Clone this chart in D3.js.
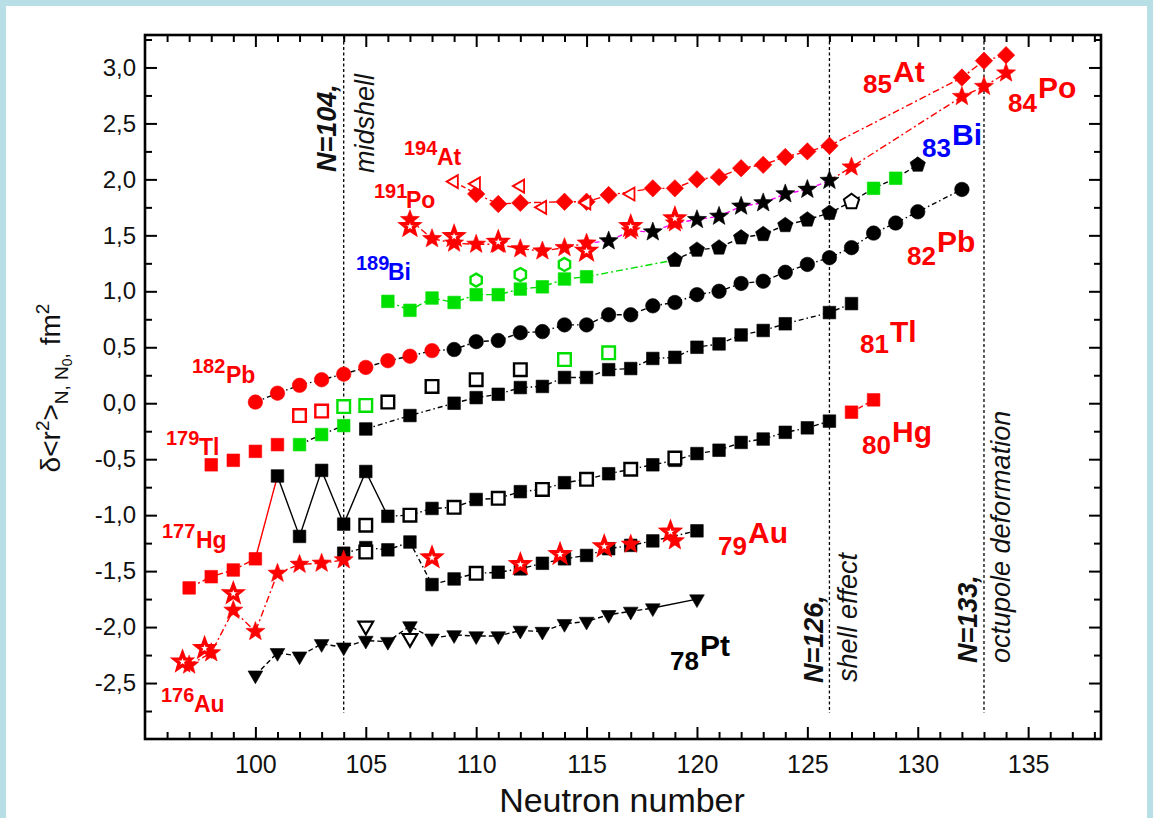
<!DOCTYPE html>
<html>
<head>
<meta charset="utf-8">
<script src="https://cdn.jsdelivr.net/npm/d3@7"></script>
<style>
body { margin: 0; background: #b9dfe6; }
svg { display: block; }
text { font-family: "Liberation Sans", Arial, sans-serif; }
</style>
</head>
<body>
<script>
var W = 1153, H = 818;

// 78 Pt
var ptN = [100,101,102,103,104,105,106,107,108,109,110,111,112,113,114,115,116,117,118,120];
var ptR = [-2.43,-2.23,-2.26,-2.15,-2.18,-2.12,-2.13,-1.99,-2.10,-2.07,-2.08,-2.08,-2.03,-2.04,-1.97,-1.95,-1.89,-1.86,-1.83,-1.75];
var ptOpenN = [105,107];
var ptOpenR = [-1.99,-2.10];

// 79 Au
var auStarN = [97,98,99,100,101,102,103,104,117,119];
var auStarR = [-2.34,-2.23,-1.85,-2.04,-1.52,-1.44,-1.43,-1.40,-1.26,-1.23];
var auOpenStarN = [96.7,97.7,99,108,112,113.8,115.8,118.8];
var auOpenStarR = [-2.31,-2.19,-1.70,-1.38,-1.44,-1.35,-1.28,-1.15];
var auSqN = [104,105,106,107,108,109,111,112,113,114,115,116,117,118,120];
var auSqR = [-1.34,-1.29,-1.31,-1.24,-1.62,-1.57,-1.51,-1.48,-1.43,-1.39,-1.36,-1.30,-1.27,-1.23,-1.14];
var auOpenSqN = [105,110];
var auOpenSqR = [-1.33,-1.52];

// 80 Hg
var hgRedN = [97,98,99,100,127,128];
var hgRedR = [-1.65,-1.55,-1.49,-1.39,-0.08,0.03];
var hgN = [101,102,103,104,105,106,108,110,112,114,116,118,119,120,121,122,123,124,125,126];
var hgR = [-0.65,-1.19,-0.60,-1.08,-0.61,-1.01,-0.94,-0.86,-0.79,-0.71,-0.63,-0.55,-0.51,-0.45,-0.42,-0.35,-0.32,-0.26,-0.22,-0.16];
var hgOpenN = [105,107,109,111,113,115,117,119];
var hgOpenR = [-1.09,-1.00,-0.93,-0.85,-0.77,-0.68,-0.59,-0.49];

// 81 Tl
var tlRedN = [98,99,100,101];
var tlRedR = [-0.55,-0.51,-0.43,-0.37];
var tlRedOpenN = [102,103];
var tlRedOpenR = [-0.11,-0.07];
var tlGreenN = [102,103,104];
var tlGreenR = [-0.37,-0.28,-0.20];
var tlGreenOpenN = [104,105,114,116];
var tlGreenOpenR = [-0.03,-0.02,0.39,0.45];
var tlN = [105,107,109,110,111,112,113,114,115,116,117,118,119,120,121,122,123,124,126,127];
var tlR = [-0.23,-0.11,0.00,0.05,0.08,0.14,0.15,0.23,0.23,0.30,0.31,0.40,0.41,0.50,0.53,0.61,0.65,0.71,0.81,0.89];
var tlOpenN = [106,108,110,112];
var tlOpenR = [0.01,0.15,0.21,0.30];

// 82 Pb
var pbRedN = [100,101,102,103,104,105,106,107,108];
var pbRedR = [0.01,0.09,0.16,0.21,0.26,0.32,0.38,0.42,0.47];
var pbN = [109,110,111,112,113,114,115,116,117,118,119,120,121,122,123,124,125,126,127,128,129,130,132];
var pbR = [0.48,0.55,0.56,0.63,0.64,0.70,0.70,0.79,0.79,0.87,0.90,0.97,1.00,1.07,1.09,1.17,1.24,1.30,1.39,1.52,1.61,1.71,1.91];

// 83 Bi
var biGreenN = [106,107,108,109,110,111,112,113,114,115,128,129];
var biGreenR = [0.91,0.83,0.94,0.90,0.97,0.97,1.02,1.04,1.11,1.13,1.92,2.01];
var biHexN = [110,112,114];
var biHexR = [1.10,1.15,1.24];
var biN = [119,120,121,122,123,124,125,126,130];
var biR = [1.28,1.37,1.39,1.48,1.51,1.59,1.64,1.70,2.13];
var biOpenN = [127];
var biOpenR = [1.80];

// 84 Po
var poRedN = [107,108,109,110,111,112,113,114,115,117,119,127,132,133,134];
var poRedR = [1.64,1.47,1.43,1.42,1.42,1.38,1.36,1.39,1.43,1.54,1.61,2.11,2.74,2.83,2.95];
var poOpenN = [107,109,111,115,117,119];
var poOpenR = [1.58,1.49,1.44,1.36,1.58,1.65];
var poN = [116,118,120,121,122,123,124,125,126];
var poR = [1.45,1.53,1.64,1.67,1.76,1.79,1.87,1.91,1.99];

// 85 At
var atN = [110,111,112,114,115,116,118,119,120,121,122,123,124,125,126,132,133,134];
var atR = [1.87,1.78,1.79,1.80,1.80,1.86,1.92,1.92,2.00,2.02,2.10,2.13,2.20,2.25,2.30,2.91,3.06,3.11];
var atOpenN = [109,110,112,113,115,117];
var atOpenR = [1.98,1.96,1.94,1.75,1.79,1.87];

// axis ticks
var xMajor = [100,105,110,115,120,125,130,135];
var yMajor = [-2.5,-2,-1.5,-1,-0.5,0,0.5,1,1.5,2,2.5,3];
var markN = [104,126,133];

var RED = '#ff0000', GREEN = '#00e000', BLUE = '#0000ff', MAG = '#ff00ff';

var svg = d3.select('body').append('svg')
            .attr('width', W)
            .attr('height', H);

svg.append('rect').attr('width', W).attr('height', H).attr('fill', '#b9dfe6');
svg.append('rect').attr('x', 6).attr('y', 6).attr('width', W - 12).attr('height', H - 6).attr('fill', '#fff');

var x = d3.scaleLinear().domain([95, 138.3]).range([145, 1101]);
var y = d3.scaleLinear().domain([-3, 3.29]).range([739, 35]);

// ticks, all pointing inwards
var xMinor = d3.range(96, 139).filter(d => xMajor.indexOf(d) < 0);
var yMinor = d3.range(-2.75, 3.3, 0.5);
var fmtY = d => d.toFixed(1).replace('.', ',');

function axisGroup(axis, tr) {
  var g = svg.append('g').attr('transform', tr).call(axis);
  g.select('.domain').remove();
  g.selectAll('line').attr('stroke-width', 2);
  return g;
}
var bottom = axisGroup(d3.axisBottom(x).tickValues(xMajor).tickSize(-12).tickSizeOuter(0).tickPadding(16).tickFormat(d3.format('d')), 'translate(0,739)');
axisGroup(d3.axisBottom(x).tickValues(xMinor).tickSize(-7).tickFormat(''), 'translate(0,739)');
axisGroup(d3.axisTop(x).tickValues(xMajor).tickSize(-12).tickFormat(''), 'translate(0,35)');
axisGroup(d3.axisTop(x).tickValues(xMinor).tickSize(-7).tickFormat(''), 'translate(0,35)');
var left = axisGroup(d3.axisLeft(y).tickValues(yMajor).tickSize(-12).tickSizeOuter(0).tickPadding(9).tickFormat(fmtY), 'translate(145,0)');
axisGroup(d3.axisLeft(y).tickValues(yMinor).tickSize(-7).tickFormat(''), 'translate(145,0)');
axisGroup(d3.axisRight(y).tickValues(yMajor).tickSize(-12).tickFormat(''), 'translate(1101,0)');
axisGroup(d3.axisRight(y).tickValues(yMinor).tickSize(-7).tickFormat(''), 'translate(1101,0)');
bottom.selectAll('text').style('font-size', '25px').attr('fill', '#111').style('font-family', '"Liberation Sans", Arial');
left.selectAll('text').style('font-size', '24px').attr('fill', '#111').style('font-family', '"Liberation Sans", Arial');

// vertical markers
svg.append('g').selectAll('line').data(markN).enter().append('line')
   .attr('x1', d => x(d)).attr('x2', d => x(d))
   .attr('y1', 36).attr('y2', 713)
   .attr('stroke', '#000').attr('stroke-width', 1.3).attr('stroke-dasharray', '3,2.5');

// helpers for picking points
function pts(nArr, rArr, lo, hi) {
  return nArr.map((n, i) => [n, rArr[i]]).filter(p => p[0] >= lo && p[0] <= hi);
}
function merge() {
  var all = [];
  for (var i = 0; i < arguments.length; i++) all = all.concat(arguments[i]);
  return all.sort((a, b) => a[0] - b[0]);
}

var DASHDOT = '7,3,2,3', DOTDASH = '5,3,1.5,3', DASH = '5,3';

var links = [
  {p: pts(ptN, ptR, 100, 118), c: '#000', d: DASH},
  {p: pts(ptN, ptR, 118, 120), c: '#000', d: null},
  {p: pts(auStarN, auStarR, 97, 104), c: RED, d: DASHDOT},
  {p: merge(pts(auSqN, auSqR, 104, 120), pts(auOpenSqN, auOpenSqR, 110, 110)), c: '#000', d: DOTDASH},
  {p: pts(hgRedN, hgRedR, 97, 100), c: RED, d: DASHDOT},
  {p: merge(pts(hgRedN, hgRedR, 100, 100), pts(hgN, hgR, 101, 101)), c: RED, d: null},
  {p: pts(hgN, hgR, 101, 106), c: '#000', d: null},
  {p: merge(pts(hgN, hgR, 106, 126), pts(hgOpenN, hgOpenR, 107, 117)), c: '#000', d: DOTDASH},
  {p: pts(hgRedN, hgRedR, 127, 128), c: RED, d: DASH},
  {p: pts(tlGreenN, tlGreenR, 102, 104), c: '#000', d: DOTDASH},
  {p: pts(tlN, tlR, 105, 127), c: '#000', d: DOTDASH},
  {p: merge(pts(pbRedN, pbRedR, 100, 108), pts(pbN, pbR, 109, 132)), c: '#000', d: DOTDASH},
  {p: pts(biGreenN, biGreenR, 106, 115), c: GREEN, d: DASHDOT},
  {p: merge(pts(biGreenN, biGreenR, 115, 115), pts(biN, biR, 119, 119)), c: GREEN, d: DASHDOT},
  {p: merge(pts(biN, biR, 119, 130), pts(biOpenN, biOpenR, 127, 127), pts(biGreenN, biGreenR, 128, 129)), c: '#000', d: DASH},
  {p: pts(poRedN, poRedR, 107, 115), c: RED, d: DASHDOT},
  {p: merge(pts(poRedN, poRedR, 115, 126), pts(poN, poR, 116, 126)), c: MAG, d: DASH},
  {p: merge(pts(poN, poR, 126, 126), pts(poRedN, poRedR, 127, 134)), c: RED, d: DASHDOT},
  {p: pts(atN, atR, 110, 134), c: RED, d: DASHDOT},
  {p: merge(pts(atOpenN, atOpenR, 109, 109), pts(atN, atR, 110, 110)), c: RED, d: DASH}
];

var line = d3.line().x(d => x(d[0])).y(d => y(d[1]));
svg.append('g').selectAll('path').data(links).enter().append('path')
   .attr('d', d => line(d.p))
   .attr('fill', 'none')
   .attr('stroke', d => d.c)
   .attr('stroke-width', 1.4)
   .attr('stroke-dasharray', d => d.d);

// marker shapes
function regular(n, r, a0) {
  return d3.range(n).map(i => [r * Math.cos(a0 + i * 2 * Math.PI / n), r * Math.sin(a0 + i * 2 * Math.PI / n)]);
}
function starPts(r1, r2) {
  return d3.range(10).map(i => {
    var a = -Math.PI / 2 + i * Math.PI / 5, r = i % 2 ? r2 : r1;
    return [r * Math.cos(a), r * Math.sin(a)];
  });
}
var polyLine = d3.line().curve(d3.curveLinearClosed);
var shapes = {
  square: polyLine([[-6.3, -6.3], [6.3, -6.3], [6.3, 6.3], [-6.3, 6.3]]),
  circle: d3.symbol(d3.symbolCircle, 165)(),
  diamond: polyLine(regular(4, 8.7, -Math.PI / 2)),
  star: polyLine(starPts(10, 4.2)),
  openStar: polyLine(starPts(8.6, 3.6)),
  triDown: polyLine(regular(3, 8.5, Math.PI / 2)),
  triLeft: polyLine(regular(3, 7.5, Math.PI)),
  pentagon: polyLine(regular(5, 8, -Math.PI / 2)),
  hexagon: polyLine(regular(6, 6.5, -Math.PI / 2))
};

var markers = [
  {n: ptN, r: ptR, s: 'triDown', c: '#000'},
  {n: ptOpenN, r: ptOpenR, s: 'triDown', c: '#000', open: 2.2},
  {n: auSqN, r: auSqR, s: 'square', c: '#000'},
  {n: auOpenSqN, r: auOpenSqR, s: 'square', c: '#000', open: 2.4},
  {n: auStarN, r: auStarR, s: 'star', c: RED},
  {n: auOpenStarN, r: auOpenStarR, s: 'openStar', c: RED, open: 3.4},
  {n: hgRedN, r: hgRedR, s: 'square', c: RED},
  {n: hgN, r: hgR, s: 'square', c: '#000'},
  {n: hgOpenN, r: hgOpenR, s: 'square', c: '#000', open: 2.4},
  {n: tlRedN, r: tlRedR, s: 'square', c: RED},
  {n: tlRedOpenN, r: tlRedOpenR, s: 'square', c: RED, open: 2.4},
  {n: tlGreenN, r: tlGreenR, s: 'square', c: GREEN},
  {n: tlGreenOpenN, r: tlGreenOpenR, s: 'square', c: GREEN, open: 2.4},
  {n: tlN, r: tlR, s: 'square', c: '#000'},
  {n: tlOpenN, r: tlOpenR, s: 'square', c: '#000', open: 2.4},
  {n: pbRedN, r: pbRedR, s: 'circle', c: RED},
  {n: pbN, r: pbR, s: 'circle', c: '#000'},
  {n: biGreenN, r: biGreenR, s: 'square', c: GREEN},
  {n: biHexN, r: biHexR, s: 'hexagon', c: GREEN, open: 2.4},
  {n: biN, r: biR, s: 'pentagon', c: '#000'},
  {n: biOpenN, r: biOpenR, s: 'pentagon', c: '#000', open: 2},
  {n: poRedN, r: poRedR, s: 'star', c: RED},
  {n: poN, r: poR, s: 'star', c: '#000'},
  {n: poOpenN, r: poOpenR, s: 'openStar', c: RED, open: 3.4},
  {n: atN, r: atR, s: 'diamond', c: RED},
  {n: atOpenN, r: atOpenR, s: 'triLeft', c: RED, open: 1.8}
];

markers.forEach(function(m) {
  svg.append('g').selectAll('path')
     .data(m.n.map((n, i) => [n, m.r[i]]))
     .enter().append('path')
       .attr('d', shapes[m.s])
       .attr('transform', d => 'translate(' + x(d[0]) + ',' + y(d[1]) + ')')
       .attr('fill', m.open ? '#fff' : m.c)
       .attr('stroke', m.c)
       .attr('stroke-linejoin', 'miter')
       .attr('stroke-width', m.open || 0.6);
});

// frame
svg.append('rect').attr('x', 145).attr('y', 35).attr('width', 956).attr('height', 704)
   .attr('fill', 'none').attr('stroke', '#000').attr('stroke-width', 2.6);

// element labels: Z subscript + symbol raised
var zLabels = [
  {z: '85', s: 'At', x: 863, b: 93, sx: 893, sb: 82, c: RED},
  {z: '84', s: 'Po', x: 1008, b: 112, sx: 1038, sb: 98, c: RED},
  {z: '83', s: 'Bi', x: 922, b: 157, sx: 952, sb: 145, c: BLUE},
  {z: '82', s: 'Pb', x: 907, b: 265, sx: 937, sb: 252, c: RED},
  {z: '81', s: 'Tl', x: 860, b: 353, sx: 890, sb: 342, c: RED},
  {z: '80', s: 'Hg', x: 862, b: 454, sx: 892, sb: 442, c: RED},
  {z: '79', s: 'Au', x: 718, b: 555, sx: 748, sb: 543, c: RED},
  {z: '78', s: 'Pt', x: 670, b: 670, sx: 700, sb: 656, c: '#000'}
];
zLabels.forEach(function(l) {
  var t = svg.append('text').attr('fill', l.c).style('font-weight', 'bold');
  t.append('tspan').attr('x', l.x).attr('y', l.b).style('font-size', '26px').text(l.z);
  t.append('tspan').attr('x', l.sx).attr('y', l.sb).style('font-size', '30px').text(l.s);
});

// isotope labels: mass superscript + symbol
var aLabels = [
  {a: '194', s: 'At', x: 404, b: 155, sx: 437, sb: 165, c: RED},
  {a: '191', s: 'Po', x: 374, b: 198, sx: 406, sb: 208, c: RED},
  {a: '189', s: 'Bi', x: 356, b: 270, sx: 388, sb: 280, c: BLUE},
  {a: '182', s: 'Pb', x: 192, b: 373, sx: 226, sb: 383, c: RED},
  {a: '179', s: 'Tl', x: 166, b: 445, sx: 199, sb: 455, c: RED},
  {a: '177', s: 'Hg', x: 162, b: 538, sx: 196, sb: 548, c: RED},
  {a: '176', s: 'Au', x: 161, b: 702, sx: 194, sb: 712, c: RED}
];
aLabels.forEach(function(l) {
  var t = svg.append('text').attr('fill', l.c).style('font-weight', 'bold');
  t.append('tspan').attr('x', l.x).attr('y', l.b).style('font-size', '20px').text(l.a);
  t.append('tspan').attr('x', l.sx).attr('y', l.sb).style('font-size', '23px').text(l.s);
});

// rotated notes along the dotted lines
var notes = [
  {t: 'N=104,', x: 336, y: 172, w: 'bold'},
  {t: 'midshell', x: 374, y: 173, w: 'normal'},
  {t: 'N=126,', x: 823, y: 683, w: 'bold'},
  {t: 'shell effect', x: 857, y: 682, w: 'normal'},
  {t: 'N=133,', x: 977, y: 663, w: 'bold'},
  {t: 'octupole deformation', x: 1010, y: 663, w: 'normal'}
];
svg.append('g').selectAll('text').data(notes).enter().append('text')
   .attr('transform', d => 'translate(' + d.x + ',' + d.y + ') rotate(-90)')
   .style('font-size', '27px').style('font-style', 'italic')
   .style('font-weight', d => d.w)
   .attr('fill', '#111')
   .text(d => d.t);

// axis titles
svg.append('text').attr('x', 622).attr('y', 812).attr('text-anchor', 'middle')
   .style('font-size', '34px').attr('fill', '#111').text('Neutron number');

var yl = svg.append('text').attr('transform', 'translate(60,388) rotate(-90)')
            .attr('text-anchor', 'middle').style('font-size', '28px').attr('fill', '#111');
yl.append('tspan').text('\u03b4<r');
yl.append('tspan').attr('dy', -11).style('font-size', '19px').text('2');
yl.append('tspan').attr('dy', 11).text('>');
yl.append('tspan').attr('dy', 8).style('font-size', '19px').text('N, N');
yl.append('tspan').attr('dy', 4).style('font-size', '14px').text('0');
yl.append('tspan').attr('dy', -4).style('font-size', '19px').text(',');
yl.append('tspan').attr('dy', -8).text(' fm');
yl.append('tspan').attr('dy', -11).style('font-size', '19px').text('2');
</script>
</body>
</html>
